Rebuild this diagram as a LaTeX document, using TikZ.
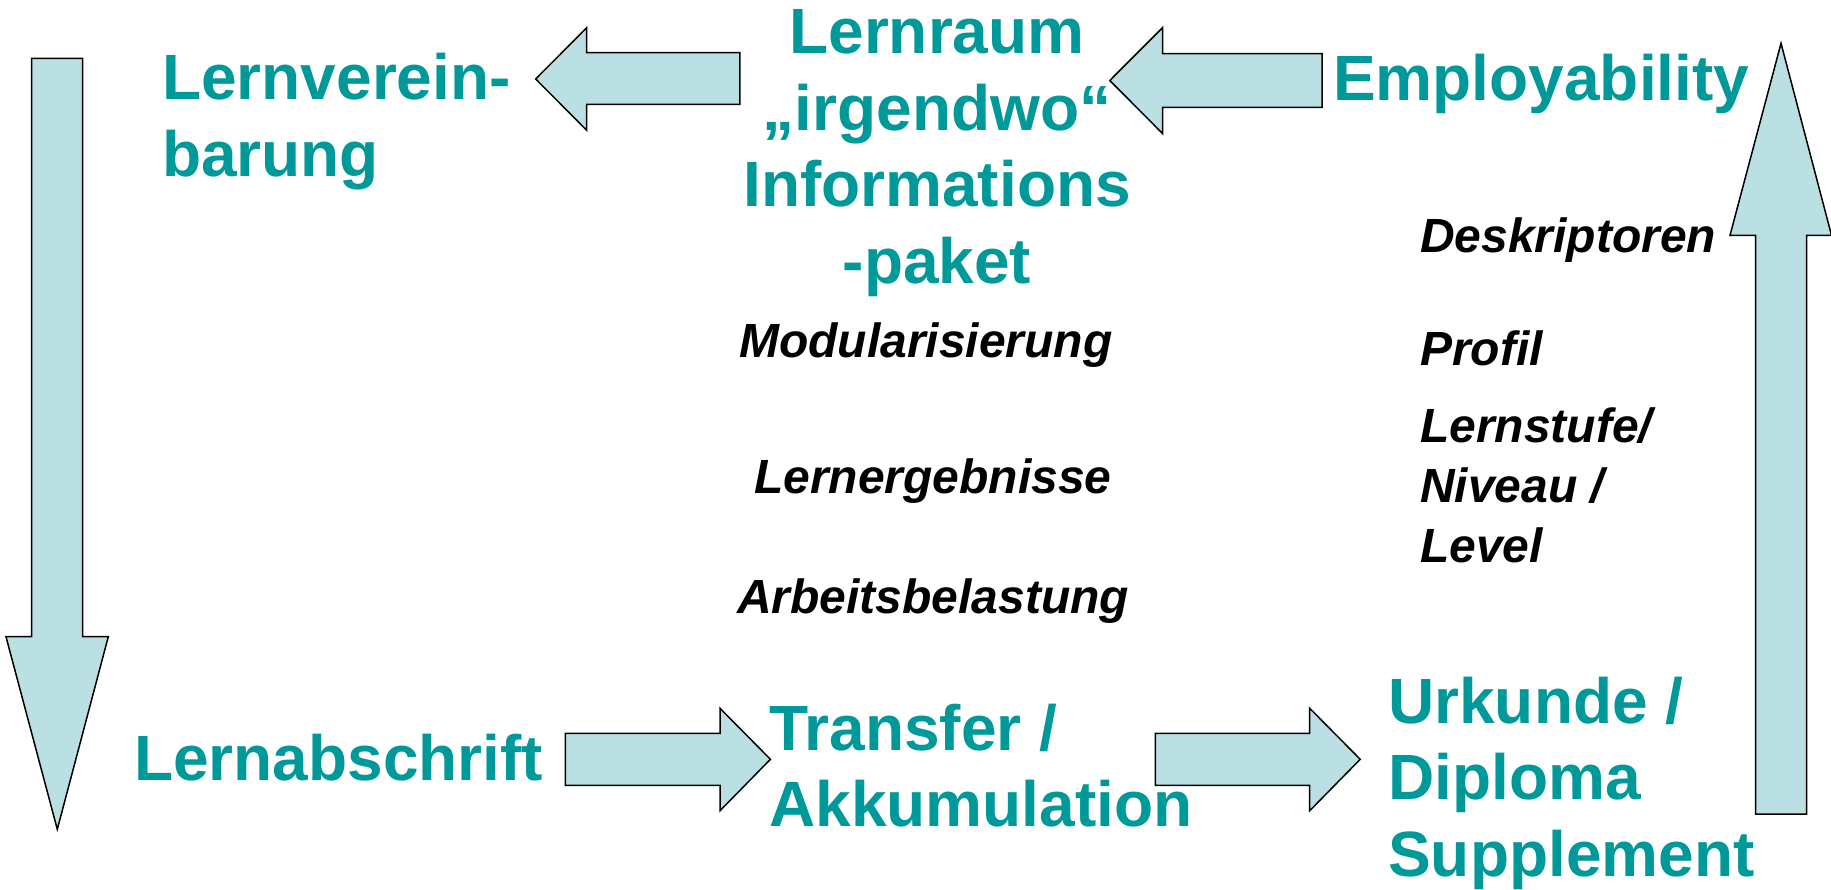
\documentclass[tikz,border=0pt]{standalone}
\usepackage{fontspec}
\setmainfont{Liberation Sans}
\definecolor{tealtxt}{HTML}{009999}
\definecolor{arrowfill}{HTML}{BBE0E3}
\begin{document}
\begin{tikzpicture}[x=1pt,y=-1pt,
  big/.style={inner sep=0pt, text=tealtxt, font=\fontsize{64}{76.5}\selectfont\bfseries},
  small/.style={inner sep=0pt, text=black, font=\fontsize{48}{60}\selectfont\bfseries\itshape},
  blockarrow/.style={fill=arrowfill, draw=black, line width=1.5pt, line join=miter}]
\path[use as bounding box, fill=white] (0,0) rectangle (1831,889);

% block arrows
% left, pointing down
\draw[blockarrow] (31.7,58.3) -- (82.7,58.3) -- (82.7,636.7) -- (108.3,636.7) -- (57.3,829.3)
  -- (6,636.7) -- (31.7,636.7) -- cycle;
% right, pointing up
\draw[blockarrow] (1755.7,814) -- (1806.7,814) -- (1806.7,235.3) -- (1831.5,235.3) -- (1781,43.3)
  -- (1730,235.3) -- (1755.7,235.3) -- cycle;
% top left, pointing left
\draw[blockarrow] (739.8,52.7) -- (586.7,52.7) -- (586.7,27.7) -- (535.7,79) -- (586.7,130.3)
  -- (586.7,104.3) -- (739.8,104.3) -- cycle;
% top right, pointing left
\draw[blockarrow] (1322,53.5) -- (1162.5,53.5) -- (1162.5,27.7) -- (1109.8,80.5) -- (1162.5,133.5)
  -- (1162.5,107.3) -- (1322,107.3) -- cycle;
% bottom left, pointing right
\draw[blockarrow] (565.4,733.3) -- (720,733.3) -- (720,708.3) -- (770.4,759.3) -- (720,810.7)
  -- (720,785.3) -- (565.4,785.3) -- cycle;
% bottom right, pointing right
\draw[blockarrow] (1155.3,733.3) -- (1309.7,733.3) -- (1309.7,708.3) -- (1360.2,759.3) -- (1309.7,810.7)
  -- (1309.7,785.3) -- (1155.3,785.3) -- cycle;

% teal labels
\node[big, anchor=base west] (lv) at (162,99.5)
  {\begin{tabular}[t]{@{}l@{}}Lernverein-\\barung\end{tabular}};
\node[big, anchor=base] (lr) at (937,53.5)
  {\begin{tabular}[t]{@{}c@{}}Lernraum\\„irgendwo“\\Informations\\-paket\end{tabular}};
\node[big, anchor=base west] (emp) at (1333,100) {Employability};
\node[big, anchor=base west] (lab) at (134,780) {Lernabschrift};
\node[big, anchor=base west] (tra) at (769,750)
  {\begin{tabular}[t]{@{}l@{}}Transfer /\\Akkumulation\end{tabular}};
\node[big, anchor=base west] (urk) at (1388,723)
  {\begin{tabular}[t]{@{}l@{}}Urkunde /\\Diploma\\Supplement\end{tabular}};

% black italic labels
\node[small, anchor=base west] (mod) at (739,357) {Modularisierung};
\node[small, anchor=base west] (ler) at (754,493) {Lernergebnisse};
\node[small, anchor=base west] (arb) at (737,613) {Arbeitsbelastung};
\node[small, anchor=base west] (desk) at (1420,252) {Deskriptoren};
\node[small, anchor=base west] (prof) at (1420,365) {Profil};
\node[small, anchor=base west] (lst) at (1420,442)
  {\begin{tabular}[t]{@{}l@{}}Lernstufe/\\Niveau /\\Level\end{tabular}};
\end{tikzpicture}
\end{document}
